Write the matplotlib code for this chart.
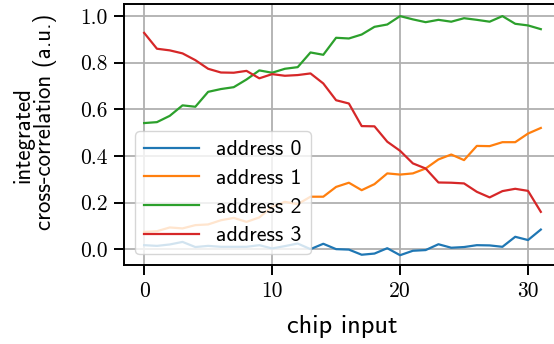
import numpy as np
import matplotlib
matplotlib.use("Agg")
import matplotlib.pyplot as plt

# integrated cross-correlation per chip input, one series per address
chip_input = np.arange(32)
address_0 = [0.017, 0.014, 0.020, 0.031, 0.009, 0.014, 0.010, 0.010, 0.010, 0.017,
             0.003, 0.013, 0.024, 0.000, 0.023, 0.000, -0.002, -0.024, -0.019, 0.004,
             -0.026, -0.007, -0.004, 0.021, 0.006, 0.009, 0.017, 0.016, 0.010, 0.053,
             0.039, 0.084]
address_1 = [0.074, 0.077, 0.093, 0.089, 0.103, 0.106, 0.124, 0.134, 0.117, 0.136,
             0.182, 0.203, 0.193, 0.225, 0.225, 0.267, 0.285, 0.253, 0.279, 0.325,
             0.320, 0.325, 0.346, 0.385, 0.406, 0.382, 0.443, 0.442, 0.459, 0.459,
             0.496, 0.520]
address_2 = [0.541, 0.545, 0.572, 0.617, 0.611, 0.675, 0.687, 0.695, 0.728, 0.767,
             0.757, 0.774, 0.781, 0.844, 0.834, 0.907, 0.904, 0.921, 0.954, 0.964,
             1.000, 0.986, 0.974, 0.984, 0.976, 0.991, 0.984, 0.976, 1.000, 0.967,
             0.960, 0.944]
address_3 = [0.928, 0.860, 0.853, 0.840, 0.811, 0.774, 0.758, 0.757, 0.765, 0.733,
             0.751, 0.744, 0.747, 0.754, 0.711, 0.639, 0.625, 0.528, 0.527, 0.461,
             0.422, 0.368, 0.346, 0.286, 0.285, 0.282, 0.246, 0.222, 0.249, 0.259,
             0.250, 0.160]
labels = ["address 0", "address 1", "address 2", "address 3"]

fig = plt.figure(figsize=(5.54, 3.44), dpi=100)
ax = fig.add_axes([0.2244, 0.2297, 0.7876, 0.7587])

for series, label in zip([address_0, address_1, address_2, address_3], labels):
    ax.plot(chip_input, series, label=label, linewidth=1.6)

ax.set_xlim(-1.55, 32.55)
ax.set_ylim(-0.068, 1.052)
ax.grid(True, color="#b0b0b0", linewidth=1.3)
ax.set_axisbelow(True)
for sp in ax.spines.values():
    sp.set_linewidth(1.4)
ax.spines["right"].set_visible(False)
ax.tick_params(length=7, width=1.4, pad=5)

ax.set_xticks([0, 10, 20, 30])
ax.set_yticks([0.0, 0.2, 0.4, 0.6, 0.8, 1.0])
for lbl in ax.get_xticklabels() + ax.get_yticklabels():
    lbl.set_fontfamily("cmr10")
    lbl.set_fontsize(15.5)

ax.set_xlabel("chip input", fontfamily="cmss10", fontsize=19, labelpad=10)

# two-line y label, each line placed on its own
fig.text(0.0415, 0.6076, "integrated", rotation=90, ha="center", va="center",
         fontfamily="cmss10", fontsize=16.5)
fig.text(0.0812, 0.6462, "cross-correlation (a.u.)", rotation=90, ha="center",
         va="center", fontfamily="cmss10", fontsize=16.5)

ax.legend(loc="lower left", prop={"family": "cmss10", "size": 15.8},
          handlelength=2.5, labelspacing=0.42, borderpad=0.4)

fig.savefig("out.png", dpi=100)
